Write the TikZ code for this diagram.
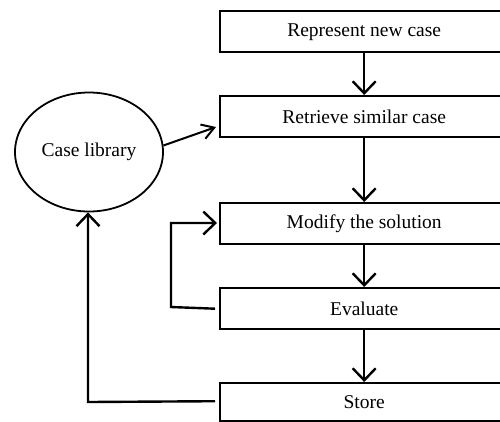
\documentclass[tikz,border=0pt]{standalone}
\usepackage{fontspec}
\setmainfont{Liberation Serif}
\usetikzlibrary{arrows.meta,shapes.geometric}
\begin{document}
\begin{tikzpicture}[x=1bp,y=-1bp,
  stepbox/.style={draw,line width=2.4bp,minimum width=288bp,minimum height=41bp,inner sep=0pt,anchor=north west,font=\fontsize{19.5bp}{22bp}\selectfont},
  libnode/.style={draw,ellipse,line width=1.8bp,minimum width=148bp,minimum height=119bp,inner sep=0pt,font=\fontsize{19.5bp}{22bp}\selectfont},
  flow/.style={line width=2.4bp,-{Straight Barb[length=12bp,width=23bp,line width=2.4bp]}},
  thinflow/.style={line width=2bp,-{Straight Barb[length=12bp,width=15bp,line width=2bp]}}]
\useasboundingbox (0,0) rectangle (500,421);
\begin{scope}
\clip (0,0) rectangle (500,421);
\node[stepbox] (r1) at (219,10) {Represent new case};
\node[stepbox] (r2) at (219,95) {Retrieve similar case};
\node[stepbox] (r3) at (219,202) {Modify the solution};
\node[stepbox] (r4) at (219,287) {Evaluate};
\node[stepbox,minimum height=38bp] (r5) at (219,382) {Store};
\end{scope}
\node[libnode] (lib) at (89,152) {Case library};
\coordinate (a) at (216,127);
\coordinate (lp) at (171,307);
\coordinate (lq) at (171,223);
\coordinate (sp) at (88,402);
\draw[flow] (r1.south) -- (r2.north);
\draw[flow] (r2.south) -- (r3.north);
\draw[flow] (r3.south) -- (r4.north);
\draw[flow] (r4.south) -- (r5.north);
\draw[thinflow] (lib.5) -- (a);
\draw[flow] ([xshift=-4bp]r4.west) -- (lp) -- (lq) -- ([xshift=-2bp]r3.west |- lq);
\draw[flow] ([xshift=-4bp,yshift=1bp]r5.west) -- (sp) -- (lib.south -| sp);
\end{tikzpicture}
\end{document}
